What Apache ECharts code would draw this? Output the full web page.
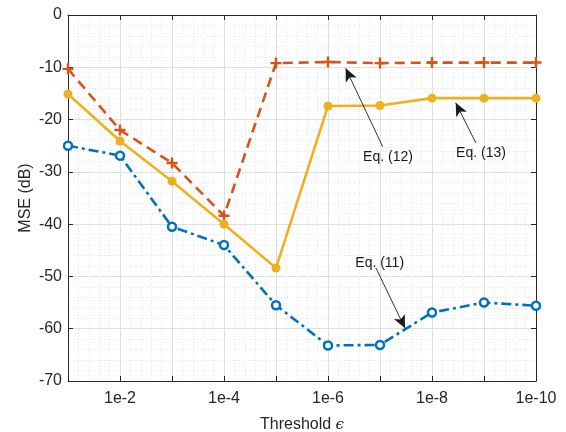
<!DOCTYPE html>
<html>
<head>
<meta charset="utf-8">
<script src="https://cdn.jsdelivr.net/npm/echarts@6/dist/echarts.min.js"></script>
<style>html,body{margin:0;padding:0;background:#fff}#c{width:566px;height:432px}</style>
</head>
<body>
<div id="c"></div>
<script>
// x positions: exponent k of threshold 1e-k
var xExp = [1, 2, 3, 4, 5, 6, 7, 8, 9, 10];
var eq11 = [-25.0, -26.9, -40.5, -44.0, -55.5, -63.2, -63.1, -56.9, -55.0, -55.6];
var eq12 = [-10.3, -22.0, -28.3, -38.4, -9.2, -9.0, -9.2, -9.1, -9.1, -9.1];
var eq13 = [-15.1, -24.1, -31.8, -40.0, -48.4, -17.4, -17.3, -15.9, -15.9, -15.9];
var yTicks = [-70, -60, -50, -40, -30, -20, -10, 0];
var xTickLabels = {2: '1e-2', 4: '1e-4', 6: '1e-6', 8: '1e-8', 10: '1e-10'};
// annotations: label, text anchor, arrow tail, arrow tip (data coords)
var annText = ['Eq. (12)', 'Eq. (13)', 'Eq. (11)'];
var annTextPos = [[7.154, -27.1], [8.942, -26.5], [6.994, -47.4]];
var annTail = [[7.052, -25.2], [8.846, -24.5], [6.923, -48.4]];
var annTip = [[6.340, -10.2], [8.456, -16.8], [7.481, -59.9]];

var FONT = 'Liberation Sans, Arial, Helvetica, sans-serif';
var blue = '#0072BD', red = '#D95319', yellow = '#EDB120';
function pairs(ys) { return xExp.map(function (x, i) { return [x, ys[i]]; }); }

var chart = echarts.init(document.getElementById('c'), null, {renderer: 'canvas'});
var axisCommon = {
  axisLine: {show: true, onZero: false, lineStyle: {color: '#262626', width: 1}},
  axisTick: {show: true, inside: true, length: 5, lineStyle: {color: '#262626', width: 1}},
  minorTick: {show: false, splitNumber: 5}
};
var plus = 'path://M-0.22,-1 L0.22,-1 L0.22,-0.22 L1,-0.22 L1,0.22 L0.22,0.22 L0.22,1 L-0.22,1 L-0.22,0.22 L-1,0.22 L-1,-0.22 L-0.22,-0.22 Z';

var markLineData = annTail.map(function (t, i) {
  return [{coord: t, symbol: 'none'}, {coord: annTip[i], symbol: 'arrow'}];
});
var markPointData = annText.map(function (t, i) {
  return {coord: annTextPos[i], value: t};
});

chart.setOption({
  animation: false,
  grid: {left: 68, right: 30, top: 15, bottom: 51, show: false, containLabel: false, outerBoundsMode: 'none'},
  xAxis: [
    Object.assign({}, axisCommon, {
      type: 'value', min: 1, max: 10, interval: 1, position: 'bottom',
      name: 'Threshold {e|ϵ}', nameLocation: 'middle', nameGap: 36,
      nameTextStyle: {fontFamily: FONT, fontSize: 16, color: '#262626',
        rich: {e: {fontFamily: 'DejaVu Serif', fontStyle: 'italic', fontSize: 15, color: '#262626'}}},
      axisLabel: {margin: 10, fontFamily: FONT, fontSize: 16, color: '#262626',
        formatter: function (v) { return xTickLabels[v] || ''; }},
      splitLine: {show: true, lineStyle: {color: '#dfdfdf', width: 1}},
      minorTick: {show: false, splitNumber: 5},
      minorSplitLine: {show: true, lineStyle: {color: '#e6e6e6', width: 1, type: [1, 2]}}
    }),
    Object.assign({}, axisCommon, {
      type: 'value', min: 1, max: 10, interval: 1, position: 'top',
      axisLabel: {show: false}, splitLine: {show: false}
    })
  ],
  yAxis: [
    Object.assign({}, axisCommon, {
      type: 'value', min: -70, max: 0, interval: 10, position: 'left',
      name: 'MSE (dB)', nameLocation: 'middle', nameGap: 34, nameMoveOverlap: false,
      nameTextStyle: {fontFamily: FONT, fontSize: 16, color: '#262626'},
      axisLabel: {margin: 6, fontFamily: FONT, fontSize: 16, color: '#262626',
        formatter: function (v) { return yTicks.indexOf(v) >= 0 ? String(v) : ''; }},
      splitLine: {show: true, lineStyle: {color: '#dfdfdf', width: 1}},
      minorTick: {show: false, splitNumber: 5},
      minorSplitLine: {show: true, lineStyle: {color: '#e6e6e6', width: 1, type: [1, 2]}}
    }),
    Object.assign({}, axisCommon, {
      type: 'value', min: -70, max: 0, interval: 10, position: 'right',
      axisLabel: {show: false}, splitLine: {show: false}
    })
  ],
  series: [
    {
      name: 'Eq. (11)', type: 'line', data: pairs(eq11),
      lineStyle: {color: blue, width: 2.6, type: [10, 4, 3, 4]},
      symbol: 'circle', symbolSize: 8,
      itemStyle: {color: '#fff', borderColor: blue, borderWidth: 2.5}
    },
    {
      name: 'Eq. (12)', type: 'line', data: pairs(eq12),
      lineStyle: {color: red, width: 2.6, type: [10, 6]},
      symbol: plus, symbolSize: 11,
      itemStyle: {color: red, borderWidth: 0}
    },
    {
      name: 'Eq. (13)', type: 'line', data: pairs(eq13),
      lineStyle: {color: yellow, width: 2.6},
      symbol: 'circle', symbolSize: 9,
      itemStyle: {color: yellow, borderWidth: 0}
    },
    {
      name: 'annotations', type: 'line', data: [], silent: true,
      markLine: {
        silent: true, symbolSize: [9, 13], animation: false,
        label: {show: false},
        lineStyle: {color: '#1a1a1a', width: 0.9, type: 'solid'},
        data: markLineData
      },
      markPoint: {
        silent: true, symbol: 'circle', symbolSize: 0, animation: false,
        label: {show: true, position: 'inside', fontFamily: FONT, fontSize: 14, color: '#1a1a1a',
          formatter: function (p) { return p.value; }},
        data: markPointData
      }
    }
  ]
});
</script>
</body>
</html>
